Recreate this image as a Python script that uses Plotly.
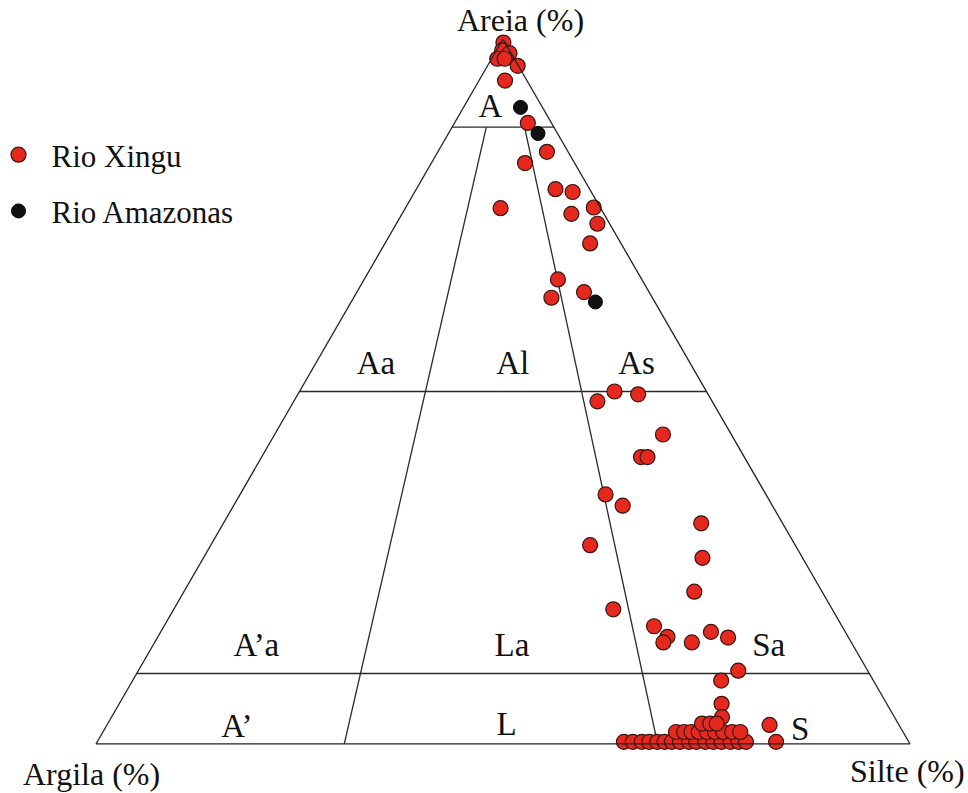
import plotly.graph_objects as go

# Sediment samples: sand (Areia), silt (Silte), clay (Argila), in %
xingu_areia = [99.5, 98.4, 98.0, 97.2, 97.2, 96.2, 94.1, 88.1, 84.0, 82.4,
               78.7, 78.3, 76.0, 76.1, 75.2, 73.8, 71.0, 65.9, 64.1, 63.3,
               50.0, 49.6, 48.6, 43.9, 40.7, 40.7, 35.4, 33.8, 31.3, 28.2,
               26.4, 21.6, 19.1, 16.7, 15.2, 14.4, 14.4, 15.9, 15.1, 10.4,
               9.0, 5.7, 3.8, 2.7, 0.3,
               0.3, 0.3, 0.3, 0.3, 0.3, 0.3, 0.3, 0.3,
               0.3, 0.3, 0.3, 0.3, 0.3, 0.3, 0.3, 0.3,
               1.7, 1.7, 1.7, 1.7, 1.7, 1.7, 1.7, 1.7, 1.7,
               2.9, 2.9, 2.9]
xingu_silte = [0.3, 0.7, 1.8, 0.7, 1.6, 3.7, 3.2, 9.0, 13.4, 11.5,
               17.1, 19.4, 11.7, 23.1, 20.8, 24.7, 25.2, 23.8, 27.9, 24.3,
               38.7, 41.8, 37.3, 47.7, 46.6, 47.4, 44.9, 47.8, 58.7, 46.6,
               61.3, 62.7, 54.0, 60.2, 62.6, 62.5, 66.0, 67.6, 70.1, 73.7,
               72.3, 74.0, 75.0, 81.4, 83.4,
               64.7, 65.8, 66.9, 67.8, 68.8, 69.7, 70.6, 71.6,
               72.7, 73.6, 74.7, 75.7, 76.7, 77.8, 78.8, 79.7,
               70.4, 71.4, 72.3, 73.2, 74.2, 75.2, 76.2, 77.3, 78.3,
               73.0, 74.0, 74.8]
xingu_argila = [round(100 - a - s, 1) for a, s in zip(xingu_areia, xingu_silte)]

amazonas_areia = [90.3, 86.6, 62.7]
amazonas_silte = [7.0, 11.0, 30.0]
amazonas_argila = [2.7, 2.4, 7.3]

# Class boundaries (sand % levels and silt/(silt+clay) dividers)
sand_levels = [87.5, 50.0, 10.0]
divider_bottom = [30.5, 69.0]   # silt % where dividers meet the base
divider_top = [4.2, 8.9]        # silt % where dividers meet the upper sand line

# Class names and their label anchors (sand, silt, clay)
class_names = ["A", "Aa", "Al", "As", "A\u2019a", "La", "Sa", "A\u2019", "L", "S"]
class_areia = [90.1, 53.6, 53.6, 53.6, 13.6, 13.6, 13.7, 2.2, 2.5, 1.8]
class_silte = [3.4, 7.6, 24.4, 39.6, 12.9, 44.3, 75.8, 16.2, 49.2, 85.6]

# Vertex titles
vertex_titles = ["Areia (%)", "Argila (%)", "Silte (%)"]

FONT = "Liberation Serif, Times New Roman, serif"
LINE = dict(color="#2a2a2a", width=1.3)

fig = go.Figure()

# horizontal sand lines
for s in sand_levels:
    fig.add_trace(go.Scatterternary(
        a=[s, s], b=[100 - s, 0], c=[0, 100 - s],
        mode="lines", line=LINE, showlegend=False, hoverinfo="skip"))

# clay/silt ratio dividers
top = sand_levels[0]
for sb, st in zip(divider_bottom, divider_top):
    fig.add_trace(go.Scatterternary(
        a=[0, top], c=[sb, st], b=[100 - sb, 100 - top - st],
        mode="lines", line=LINE, showlegend=False, hoverinfo="skip"))

# class labels
fig.add_trace(go.Scatterternary(
    a=class_areia, c=class_silte,
    b=[100 - a - s for a, s in zip(class_areia, class_silte)],
    mode="text", text=class_names, textposition="middle center",
    textfont=dict(family=FONT, size=33, color="#111"),
    showlegend=False, hoverinfo="skip", cliponaxis=False))

fig.add_trace(go.Scatterternary(
    a=xingu_areia, b=xingu_argila, c=xingu_silte,
    mode="markers", name="Rio Xingu", legendgroup="x",
    marker=dict(size=15, color="#e5291f", line=dict(color="#3b1410", width=1.2)),
    cliponaxis=False))

fig.add_trace(go.Scatterternary(
    a=amazonas_areia, b=amazonas_argila, c=amazonas_silte,
    mode="markers", name="Rio Amazonas", legendgroup="y",
    marker=dict(size=14, color="#111111", line=dict(color="#000000", width=1)),
    cliponaxis=False))

axis_common = dict(showticklabels=False, ticks="", showgrid=False,
                   showline=True, linecolor="#222", linewidth=1.3, title=dict(text=""))

W, H = 968, 793
title_font = dict(family=FONT, size=32, color="#111")
fig.update_layout(
    width=W, height=H,
    margin=dict(l=0, r=0, t=0, b=0, autoexpand=False),
    paper_bgcolor="white",
    font=dict(family=FONT, color="#111"),
    ternary=dict(
        sum=100,
        bgcolor="white",
        domain=dict(x=[96 / W, 910 / W], y=[(H - 744) / H, (H - 39) / H]),
        aaxis=axis_common, baxis=axis_common, caxis=axis_common,
    ),
    annotations=[
        dict(text=vertex_titles[0], x=520 / W, y=1 - 20 / H, xref="paper", yref="paper",
             xanchor="center", yanchor="middle", showarrow=False, font=title_font),
        dict(text=vertex_titles[1], x=91 / W, y=1 - 774 / H, xref="paper", yref="paper",
             xanchor="center", yanchor="middle", showarrow=False, font=title_font),
        dict(text=vertex_titles[2], x=907 / W, y=1 - 771 / H, xref="paper", yref="paper",
             xanchor="center", yanchor="middle", showarrow=False, font=title_font),
    ],
    legend=dict(x=-14.5 / W, y=1 - 128 / H, xanchor="left", yanchor="top",
                font=dict(family=FONT, size=31, color="#111"),
                bgcolor="rgba(0,0,0,0)", tracegroupgap=13,
                itemsizing="trace", itemwidth=56),
)

fig.write_html("out.html")
